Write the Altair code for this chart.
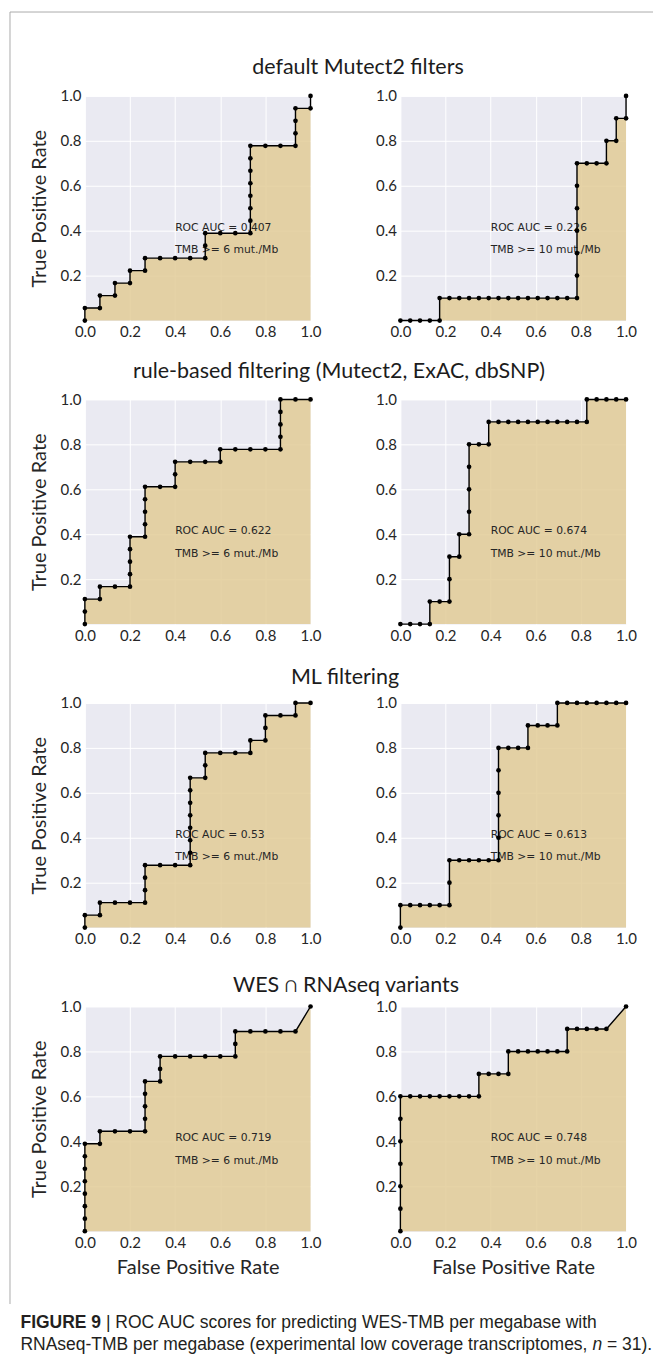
import altair as alt
import pandas as pd

# ---------------- data ----------------
SECTION_TITLES = [
    "default Mutect2 filters",
    "rule-based filtering (Mutect2, ExAC, dbSNP)",
    "ML filtering",
    "WES \u2229 RNAseq variants",
]
THRESHOLD_LABELS = ["TMB >= 6 mut./Mb", "TMB >= 10 mut./Mb"]
AUC_LABELS = [["0.407", "0.226"], ["0.622", "0.674"], ["0.53", "0.613"], ["0.719", "0.748"]]

# negatives / positives per column (TMB >= 6 left, TMB >= 10 right)
NEG = [15, 23]
POS = [18, 10]

# false-positive and true-positive counts at each threshold
default6_fp = [0, 0, 1, 1, 2, 2, 3, 3, 4, 4, 5, 6, 7, 8, 8, 8, 9, 10, 11, 11, 11, 11, 11, 11, 11, 11, 12, 13, 14, 14, 14, 14, 15, 15]
default6_tp = [0, 1, 1, 2, 2, 3, 3, 4, 4, 5, 5, 5, 5, 5, 6, 7, 7, 7, 7, 8, 9, 10, 11, 12, 13, 14, 14, 14, 14, 15, 16, 17, 17, 18]
default10_fp = [0, 1, 2, 3, 4, 4, 5, 6, 7, 8, 9, 10, 11, 12, 13, 14, 15, 16, 17, 18, 18, 18, 18, 18, 18, 18, 19, 20, 21, 21, 22, 22, 23, 23]
default10_tp = [0, 0, 0, 0, 0, 1, 1, 1, 1, 1, 1, 1, 1, 1, 1, 1, 1, 1, 1, 1, 2, 3, 4, 5, 6, 7, 7, 7, 7, 8, 8, 9, 9, 10]
rule6_fp = [0, 0, 0, 1, 1, 2, 3, 3, 3, 3, 3, 4, 4, 4, 4, 4, 5, 6, 6, 6, 7, 8, 9, 9, 10, 11, 12, 13, 13, 13, 13, 13, 14, 15]
rule6_tp = [0, 1, 2, 2, 3, 3, 3, 4, 5, 6, 7, 7, 8, 9, 10, 11, 11, 11, 12, 13, 13, 13, 13, 14, 14, 14, 14, 14, 15, 16, 17, 18, 18, 18]
rule10_fp = [0, 1, 2, 3, 3, 4, 5, 5, 5, 6, 6, 7, 7, 7, 7, 7, 8, 9, 9, 10, 11, 12, 13, 14, 15, 16, 17, 18, 19, 19, 20, 21, 22, 23]
rule10_tp = [0, 0, 0, 0, 1, 1, 1, 2, 3, 3, 4, 4, 5, 6, 7, 8, 8, 8, 9, 9, 9, 9, 9, 9, 9, 9, 9, 9, 9, 10, 10, 10, 10, 10]
ml6_fp = [0, 0, 1, 1, 2, 3, 4, 4, 4, 4, 5, 6, 7, 7, 7, 7, 7, 7, 7, 7, 8, 8, 8, 9, 10, 11, 11, 12, 12, 12, 13, 14, 14, 15]
ml6_tp = [0, 1, 1, 2, 2, 2, 2, 3, 4, 5, 5, 5, 5, 6, 7, 8, 9, 10, 11, 12, 12, 13, 14, 14, 14, 14, 15, 15, 16, 17, 17, 17, 18, 18]
ml10_fp = [0, 0, 1, 2, 3, 4, 5, 5, 5, 6, 7, 8, 9, 10, 10, 10, 10, 10, 10, 11, 12, 13, 13, 14, 15, 16, 16, 17, 18, 19, 20, 21, 22, 23]
ml10_tp = [0, 1, 1, 1, 1, 1, 1, 2, 3, 3, 3, 3, 3, 3, 4, 5, 6, 7, 8, 8, 8, 8, 9, 9, 9, 9, 10, 10, 10, 10, 10, 10, 10, 10]
wes6_fp = [0, 0, 0, 0, 0, 0, 0, 0, 1, 1, 2, 3, 4, 4, 4, 4, 4, 5, 5, 5, 6, 7, 8, 9, 10, 10, 10, 11, 12, 13, 14, 15]
wes6_tp = [0, 1, 2, 3, 4, 5, 6, 7, 7, 8, 8, 8, 8, 9, 10, 11, 12, 12, 13, 14, 14, 14, 14, 14, 14, 15, 16, 16, 16, 16, 16, 18]
wes10_fp = [0, 0, 0, 0, 0, 0, 0, 1, 2, 3, 4, 5, 6, 7, 8, 8, 9, 10, 11, 11, 12, 13, 14, 15, 16, 17, 17, 18, 19, 20, 21, 23]
wes10_tp = [0, 1, 2, 3, 4, 5, 6, 6, 6, 6, 6, 6, 6, 6, 6, 7, 7, 7, 7, 8, 8, 8, 8, 8, 8, 8, 9, 9, 9, 9, 9, 10]

CURVES = [
    [(default6_fp, default6_tp), (default10_fp, default10_tp)],
    [(rule6_fp, rule6_tp), (rule10_fp, rule10_tp)],
    [(ml6_fp, ml6_tp), (ml10_fp, ml10_tp)],
    [(wes6_fp, wes6_tp), (wes10_fp, wes10_tp)],
]

X_TICKS = [0.0, 0.2, 0.4, 0.6, 0.8, 1.0]
Y_TICKS = [0.2, 0.4, 0.6, 0.8, 1.0]

CAPTION_BOLD = "FIGURE 9"
CAPTION_L1 = "| ROC AUC scores for predicting WES-TMB per megabase with"
CAPTION_L2A = "RNAseq-TMB per megabase (experimental low coverage transcriptomes,"
CAPTION_L2N = "n"
CAPTION_L2B = "= 31)."

# ---------------- styles / layout ----------------
W, H = 226, 225
COL_GAP = 90
ROW_GAP = 79
BG = "#EAEAF2"
FILL = "#E2CB96"
TXT = "#262626"
AXFONT = "Lato"
ANNOT_X, ANNOT_Y1, ANNOT_Y2 = 0.4, 0.4, 0.3
PLOT_LEFT = 84.5
TITLE_CENTERS = [358, 339, 345, 346]       # absolute x centre of each section title
TITLE_OFFSETS = [21.5, 21.5, 19, 15]       # plot top -> title baseline
CAP_FONT = "Liberation Sans"
CAP_SIZE = 17.5
CAP_X = -64.5                              # relative to bottom-left panel
CAP_Y1, CAP_Y2 = 321.5, 344.5

# Helvetica/Arial advance widths (per 1000 em) for caption layout
HELV = {" ": 278, "|": 260, "(": 333, ")": 333, ",": 278, "-": 333, ".": 278, "=": 584,
        "0": 556, "1": 556, "2": 556, "3": 556, "9": 556,
        "A": 667, "B": 667, "C": 722, "E": 667, "F": 611, "G": 778, "I": 278, "M": 833,
        "N": 722, "O": 778, "R": 722, "S": 667, "T": 611, "U": 722, "W": 944,
        "a": 556, "b": 556, "c": 500, "d": 556, "e": 556, "f": 278, "g": 556, "h": 556,
        "i": 222, "l": 222, "m": 833, "n": 556, "o": 556, "p": 556, "q": 556, "r": 333,
        "s": 500, "t": 278, "u": 556, "v": 500, "w": 722, "x": 500}
HELV_BOLD = {"F": 611, "I": 278, "G": 778, "U": 722, "R": 722, "E": 667, " ": 278, "9": 556}


def tw(s, size, table=HELV):
    return sum(table.get(ch, 556) for ch in s) * size / 1000.0


ONE = pd.DataFrame({"k": [0]})


def cap(txt, x, y, bold=False, italic=False):
    return alt.Chart(ONE).mark_text(
        text=txt, align="left", baseline="alphabetic", font=CAP_FONT, fontSize=CAP_SIZE,
        fontWeight="bold" if bold else "normal", fontStyle="italic" if italic else "normal",
        color="#231f20").encode(x=alt.value(x), y=alt.value(y))


def caption_layers():
    x_rest = CAP_X + tw(CAPTION_BOLD + " ", CAP_SIZE, HELV_BOLD)
    x_n = CAP_X + tw(CAPTION_L2A + " ", CAP_SIZE)
    x_b = x_n + tw(CAPTION_L2N + " ", CAP_SIZE)
    return [
        cap(CAPTION_BOLD, CAP_X, CAP_Y1, bold=True),
        cap(CAPTION_L1, x_rest, CAP_Y1),
        cap(CAPTION_L2A, CAP_X, CAP_Y2),
        cap(CAPTION_L2N, x_n, CAP_Y2, italic=True),
        cap(CAPTION_L2B, x_b, CAP_Y2),
    ]


def panel(fp, tp, n_neg, n_pos, auc, tmb, ytitle, xtitle, frame, caption, title):
    df = pd.DataFrame({
        "fpr": [v / n_neg for v in fp],
        "tpr": [v / n_pos for v in tp],
        "idx": list(range(len(fp))),
    })
    x = alt.X("fpr:Q", scale=alt.Scale(domain=[0, 1], nice=False, zero=False),
              axis=alt.Axis(values=X_TICKS, format=".1f",
                            title="False Positive Rate" if xtitle else None))
    y = alt.Y("tpr:Q", scale=alt.Scale(domain=[0, 1], nice=False, zero=False),
              axis=alt.Axis(values=Y_TICKS, format=".1f",
                            title="True Positive Rate" if ytitle else None))
    order = alt.Order("idx:Q")
    area = alt.Chart(df).mark_area(color=FILL, fillOpacity=0.85).encode(
        x=x, y=y, y2=alt.datum(0))
    line = alt.Chart(df).mark_line(color="black", strokeWidth=1.4).encode(x=x, y=y, order=order)
    pts = alt.Chart(df).mark_circle(color="black", size=22, opacity=1).encode(x=x, y=y)
    t1 = alt.Chart(ONE).mark_text(text=f"ROC AUC = {auc}", align="left", baseline="alphabetic",
                                  font="DejaVu Sans", fontSize=10.8, color=TXT).encode(
        x=alt.datum(ANNOT_X), y=alt.datum(ANNOT_Y1))
    t2 = alt.Chart(ONE).mark_text(text=tmb, align="left", baseline="alphabetic",
                                  font="DejaVu Sans", fontSize=10.8, color=TXT).encode(
        x=alt.datum(ANNOT_X), y=alt.datum(ANNOT_Y2))
    layers = [area, t1, t2, line, pts]
    if title is not None:
        text, cx, off = title
        layers.append(alt.Chart(ONE).mark_text(
            text=text, align="center", baseline="alphabetic", font=AXFONT, fontSize=21.5,
            color="#1c1c1c").encode(x=alt.value(cx - PLOT_LEFT), y=alt.value(-off)))
    if frame:
        top_line = alt.Chart(ONE).mark_rule(color="#ababab", strokeWidth=1).encode(
            x=alt.value(-75), x2=alt.value(569), y=alt.value(-84))
        left_line = alt.Chart(ONE).mark_rule(color="#ababab", strokeWidth=1).encode(
            x=alt.value(-75), y=alt.value(-84), y2=alt.value(1210))
        layers += [top_line, left_line]
    if caption:
        layers += caption_layers()
    return alt.layer(*layers).properties(width=W, height=H)


cells = []
for r in range(4):
    for c in range(2):
        fp, tp = CURVES[r][c]
        title = (SECTION_TITLES[r], TITLE_CENTERS[r], TITLE_OFFSETS[r]) if c == 0 else None
        cells.append(panel(fp, tp, NEG[c], POS[c], AUC_LABELS[r][c], THRESHOLD_LABELS[c],
                           ytitle=(c == 0), xtitle=(r == 3), frame=(r == 0 and c == 0),
                           caption=(r == 3 and c == 0), title=title))

chart = alt.concat(*cells, columns=2, spacing={"row": ROW_GAP, "column": COL_GAP},
                   bounds="flush").properties(
    padding={"left": 9, "top": 10, "right": 0, "bottom": 4},
    background="white",
).configure_view(
    fill=BG, strokeOpacity=0
).configure_axis(
    labelFont=AXFONT, labelFontSize=15, labelColor=TXT, ticks=False, domain=False,
    grid=True, gridColor="white", gridWidth=1, gridOpacity=1, labelPadding=4,
    labelFlush=False,
    titleFont=AXFONT, titleFontSize=20, titleFontWeight="normal", titleColor=TXT,
).configure_axisY(titlePadding=10).configure_axisX(titlePadding=7)

chart.save("out.html", embed_options={"renderer": "svg", "actions": False})
